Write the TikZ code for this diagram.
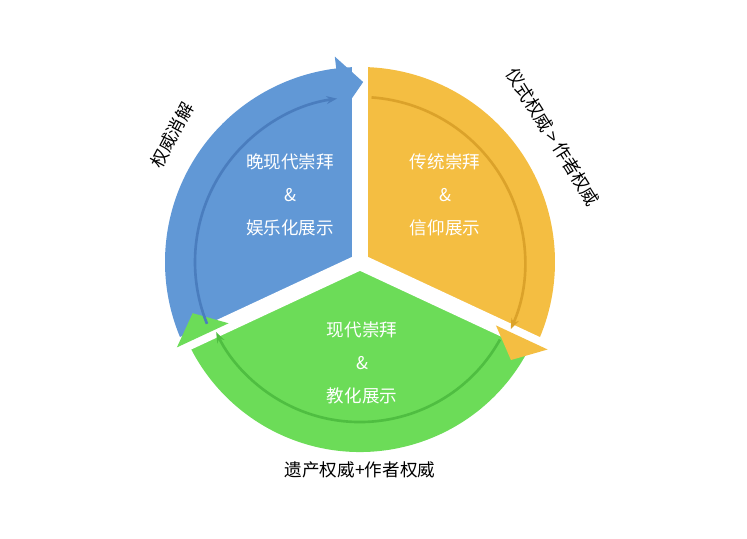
\documentclass[tikz,border=0pt]{standalone}
\usepackage{fontspec}
\usetikzlibrary{arrows.meta}
\newfontfamily\cjk{Noto Sans CJK SC}
\definecolor{bluepart}{HTML}{6198D6}
\definecolor{blueline}{HTML}{4A7DBE}
\definecolor{orangepart}{HTML}{F4BE42}
\definecolor{orangeline}{HTML}{DBA22A}
\definecolor{greenpart}{HTML}{6CDC58}
\definecolor{greenline}{HTML}{4FBE41}
\tikzset{
  inner/.style={white, font=\cjk\fontsize{10}{12}\selectfont},
  outer/.style={black, font=\cjk\fontsize{10}{12}\selectfont},
  ring/.style={line width=1.5pt, -{Stealth[length=6pt]}},
  gap/.style={white, line width=0.32cm}
}
\begin{document}
\begin{tikzpicture}[x=0.02cm,y=0.02cm]
  \useasboundingbox (-360,-276) rectangle (387,262);
  {
  % pie parts
  \fill [bluepart] (0,0) -- (205:195) arc (205:90:195) -- cycle;%
  \fill [orangepart] (0,0) -- (90:195) arc (90:-25:195) -- cycle;%
  \fill [greenpart] (0,0) -- (-25:190) arc (-25:-155:190) -- cycle;%

  % gaps between parts
  \draw [gap] (0,0) -- (90:230);%
  \draw [gap] (0,0) -- (205:230);%
  \draw [gap] (0,0) -- (-25:230);%

  % arrow heads
  \fill [bluepart] (97:207) -- (89:180) -- (97:150) -- cycle;%
  \fill [orangepart] (-25:207) -- (-33:180) -- (-25:150) -- cycle;%
  \fill [greenpart] (-155:202) -- (-163:175) -- (-155:145) -- cycle;%

  % inner rings
  \draw [ring, blueline] (202:165) arc (202:98:165);%
  \draw [ring, orangeline] (86:165) arc (86:-24:165);%
  \draw [ring, greenline] (-29:160) arc (-29:-154:160);%

  % texts in parts
  \node [inner] (b1) at (-70,100) {晚现代崇拜};%
  \node [inner] (b2) at (-70,67) {\&};%
  \node [inner] (b3) at (-70,34) {娱乐化展示};%
  \node [inner] (o1) at (85,100) {传统崇拜};%
  \node [inner] (o2) at (85,67) {\&};%
  \node [inner] (o3) at (85,34) {信仰展示};%
  \node [inner] (g1) at (2,-68) {现代崇拜};%
  \node [inner] (g2) at (2,-101) {\&};%
  \node [inner] (g3) at (2,-134) {教化展示};%

  % texts outside
  \node [outer, rotate=62] (lblue) at (-188,127) {权威消解};%
  \node [outer, rotate=-58] (lorange) at (193,125) {仪式权威 > 作者权威};%
  \node [outer] (lgreen) at (0,-208) {遗产权威+作者权威};%
  }
\end{tikzpicture}
\end{document}
